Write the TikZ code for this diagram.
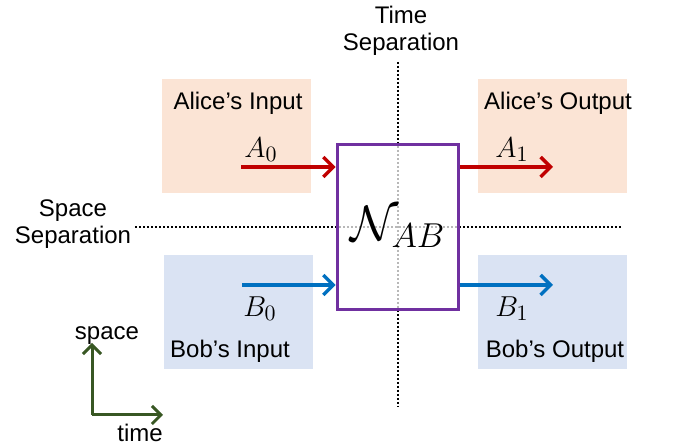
\documentclass[tikz,border=0pt]{standalone}
\usepackage{fontspec}
\setmainfont{Liberation Sans}
\usetikzlibrary{arrows.meta}
\definecolor{peach}{RGB}{251,228,213}
\definecolor{paleblue}{RGB}{218,227,243}
\definecolor{arrred}{RGB}{192,0,0}
\definecolor{arrblue}{RGB}{0,112,192}
\definecolor{boxpurple}{RGB}{112,48,160}
\definecolor{axgreen}{RGB}{56,87,35}
\begin{document}
\begin{tikzpicture}[x=0.5pt,y=-0.5pt,
  lbl/.style={font=\fontsize{12}{13.5}\selectfont, inner sep=0pt},
  mlbl/.style={font=\fontsize{15.5}{18}\selectfont, inner sep=0pt},
  region/.style={draw=none, inner sep=0pt, minimum width=74.5pt, minimum height=57pt},
  arr/.style={line width=1.7pt, -{Straight Barb[length=5pt,width=10pt,line width=1.7pt]}},
  sepline/.style={line width=1pt, dash pattern=on 1pt off 1pt},
  axis/.style={draw=axgreen, line width=1.5pt, -{Straight Barb[length=4.5pt,width=9pt,line width=1.5pt]}}]
\useasboundingbox (0,0) rectangle (676,448);

% regions
\node[region, fill=peach] (ain) at (236,136) {};
\node[region, fill=peach] (aout) at (552.5,136) {};
\node[region, fill=paleblue] (bin) at (238.5,312) {};
\node[region, fill=paleblue] (bout) at (552.5,312) {};

% separation lines
\coordinate (vt) at (398,62);
\coordinate (vb) at (398,407);
\coordinate (hl) at (135,227);
\coordinate (hr) at (622,227);
\draw[sepline] (vt) -- (vb);
\draw[sepline] (hl) -- (hr);

% channel box
\node[draw=boxpurple, line width=1.8pt, fill=white, fill opacity=0.72, text opacity=1,
      minimum width=60.5pt, minimum height=82.5pt, inner sep=0pt,
      font=\fontsize{25}{30}\selectfont] (N) at (398,227) {$\mathcal{N}_{AB}$};

% arrows
\coordinate (a0s) at (241,167);
\coordinate (a1e) at (553,167);
\coordinate (b0s) at (242,285);
\coordinate (b1e) at (553,285);
\draw[arr, arrred] (a0s) -- (a0s -| N.west);
\draw[arr, arrred] (a1e -| N.east) -- (a1e);
\draw[arr, arrblue] (b0s) -- (b0s -| N.west);
\draw[arr, arrblue] (b1e -| N.east) -- (b1e);

% math labels
\node[mlbl] (A0) at (261,150) {$A_0$};
\node[mlbl] (A1) at (512,150) {$A_1$};
\node[mlbl] (B0) at (260,309) {$B_0$};
\node[mlbl] (B1) at (512,309) {$B_1$};

% text labels
\node[lbl, anchor=base] (tain) at (238,110) {Alice’s Input};
\node[lbl, anchor=base] (taout) at (558,110) {Alice’s Output};
\node[lbl, anchor=base] (tbin) at (230,358) {Bob’s Input};
\node[lbl, anchor=base] (tbout) at (555,358) {Bob’s Output};
\node[lbl, align=center] (tsep) at (401,31) {Time\\Separation};
\node[lbl, align=center] (ssep) at (73,224) {Space\\Separation};

% axes
\coordinate (o) at (92,415);
\coordinate (up) at (92,343);
\coordinate (rt) at (163,415);
\draw[axis] (o) -- (up);
\draw[axis] (o) -- (rt);
\node[lbl, anchor=base] (tspace) at (107,340) {space};
\node[lbl, anchor=base] (ttime) at (140,442) {time};
\end{tikzpicture}
\end{document}
